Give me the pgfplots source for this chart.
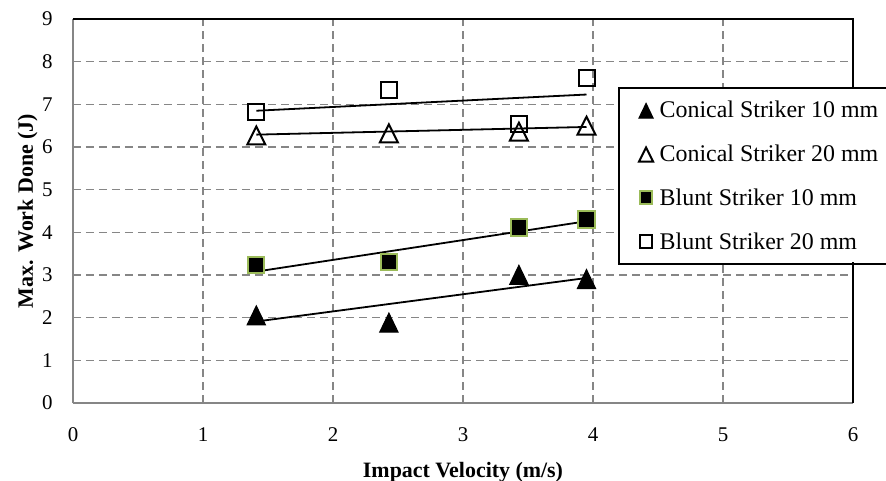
\documentclass[border=0pt]{standalone}
\usepackage{fontspec}
\setmainfont{Liberation Serif}
\usepackage{pgfplots}
\pgfplotsset{compat=1.18}
\definecolor{gridgray}{RGB}{134,134,134}
\definecolor{bluntgreen}{RGB}{155,187,89}

\begin{document}
\begin{tikzpicture}
\useasboundingbox (-36.5bp,-39bp) rectangle (406.5bp,201.5bp);
\begin{axis}[
    at={(0,0)}, anchor=origin,
    scale only axis, width=390bp, height=192bp,
    xmin=0, xmax=6, ymin=0, ymax=9,
    xtick={0,...,6}, ytick={0,...,9},
    clip=false,
    axis x line*=bottom, axis y line*=left,
    axis line style={gridgray, line width=1bp},
    major tick length=0pt, tick style={draw=none},
    grid=major,
    grid style={gridgray, line width=0.8bp, dash pattern=on 4bp off 2.5bp},
    /pgf/number format/assume math mode=true,
    ticklabel style={font=\fontsize{10.5}{12}\selectfont, inner sep=0pt},
    xticklabel style={anchor=base, yshift=-19bp},
    yticklabel style={anchor=east, xshift=-10bp},
    xlabel={Impact Velocity (m/s)},
    ylabel={Max. Work Done (J)},
    label style={font=\fontsize{11}{13}\selectfont\bfseries},
    xlabel style={at={(axis description cs:0.5,-0.1953)}, anchor=base},
    ylabel style={at={(axis description cs:-0.0513,0.5)}, anchor=base},
    legend cell align=left,
    legend style={at={(rel axis cs:0.7,0.8203)}, anchor=north west,
        draw=none, fill=white,
        inner xsep=9.75bp, inner ysep=4.25bp,
        row sep=9.5bp, column sep=3.25bp,
        font=\fontsize{12}{14}\selectfont,
        nodes={inner sep=0pt, text height=10.5bp, text depth=2bp}},
    legend image code/.code={
        \draw[#1, every mark/.append style={scale=0.78}]
            plot coordinates {(3.75bp,0bp)};},
]
% trend lines
\addplot[forget plot, black, line width=0.9bp] coordinates {(1.41,1.91) (3.95,2.93)};
\addplot[forget plot, black, line width=0.9bp] coordinates {(1.41,6.29) (3.95,6.47)};
\addplot[forget plot, black, line width=0.9bp] coordinates {(1.41,3.08) (3.95,4.26)};
\addplot[forget plot, black, line width=0.9bp] coordinates {(1.41,6.85) (3.95,7.23)};

% measured points
\addplot[only marks, black, line width=0.5bp, mark=triangle*, mark size=5.3bp,
    mark options={yscale=1.2, yshift=-1.6bp, fill=black, draw=black}]
    coordinates {(1.41,2.07) (2.43,1.90) (3.43,3.02) (3.95,2.92)};
\addlegendentry{Conical Striker 10 mm}

\addplot[only marks, black, line width=1bp, mark=triangle, mark size=5.2bp,
    mark options={yscale=1.15, yshift=-1.5bp, draw=black}]
    coordinates {(1.41,6.28) (2.43,6.33) (3.43,6.37) (3.95,6.51)};
\addlegendentry{Conical Striker 20 mm}

\addplot[only marks, black, line width=1bp, mark=square*, mark size=4.1bp,
    mark options={fill=black, draw=bluntgreen}]
    coordinates {(1.41,3.23) (2.43,3.31) (3.43,4.11) (3.95,4.30)};
\addlegendentry{Blunt Striker 10 mm}

\addplot[only marks, black, line width=1bp, mark=square, mark size=4bp,
    mark options={draw=black}]
    coordinates {(1.41,6.82) (2.43,7.33) (3.43,6.54) (3.95,7.62)};
\addlegendentry{Blunt Striker 20 mm}

\draw[black, line width=0.85bp] (rel axis cs:0,1) -- (rel axis cs:1,1) -- (rel axis cs:1,0);
\coordinate (lgtr) at (rel axis cs:1.2,0.8203);
\coordinate (lgtl) at (rel axis cs:0.7,0.8203);
\coordinate (lgbl) at (rel axis cs:0.7,0.362);
\coordinate (lgbr) at (rel axis cs:1.2,0.362);
\end{axis}
% legend frame, open to the right where the picture ends
\draw[black, line width=0.75bp] (lgtr) -- (lgtl) -- (lgbl) -- (lgbr);
\end{tikzpicture}
\end{document}
